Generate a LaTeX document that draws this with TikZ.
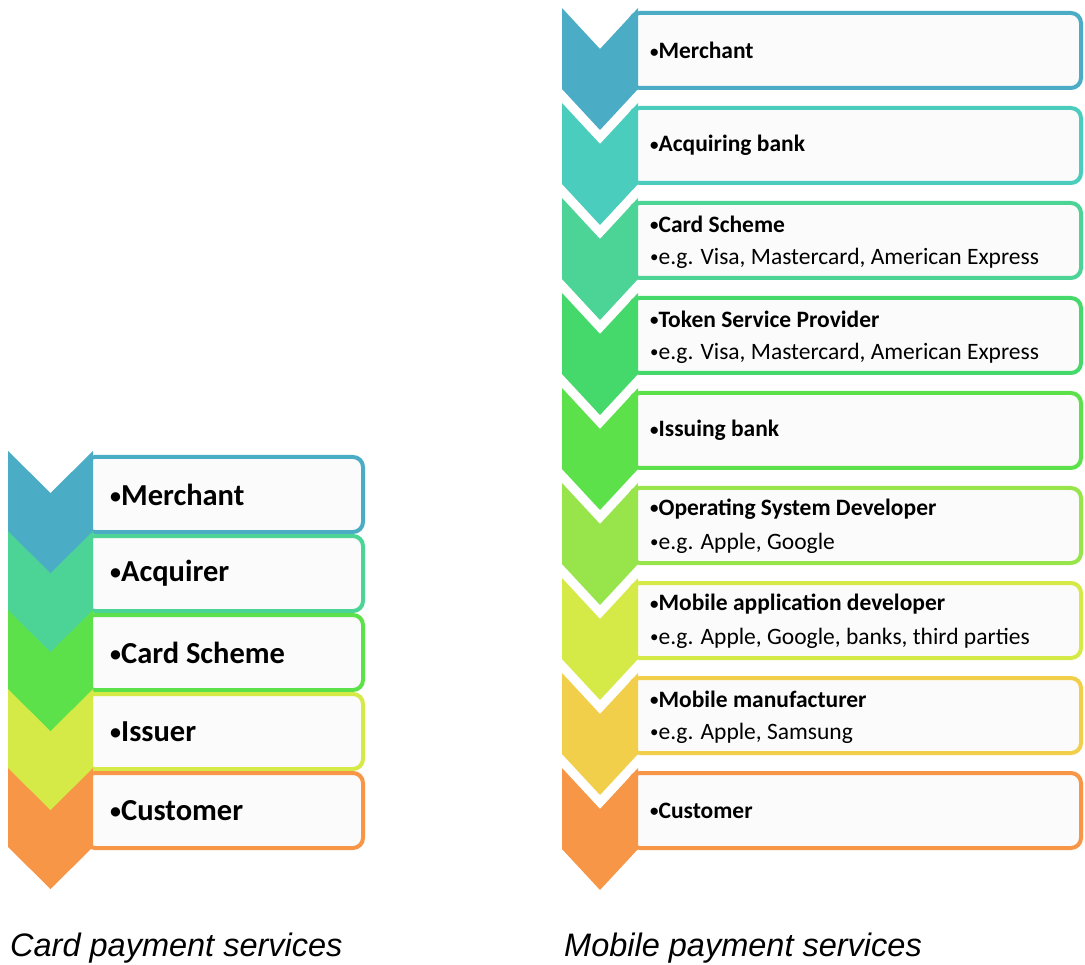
\documentclass[tikz,border=0pt]{standalone}
\usepackage{fontspec}
\usepackage{graphicx}
\setmainfont{Carlito}
\newfontfamily\capfont{Liberation Sans}
\newcommand{\bul}{\raisebox{0.06em}{\scalebox{0.72}{•}}}
\definecolor{cBlue}{HTML}{4BACC6}
\definecolor{cTeal}{HTML}{4BCDBD}
\definecolor{cAcq}{HTML}{4CD396}
\definecolor{cTok}{HTML}{45D86B}
\definecolor{cGreen}{HTML}{5DE14A}
\definecolor{cLime}{HTML}{97E44B}
\definecolor{cYel}{HTML}{D5EA46}
\definecolor{cGold}{HTML}{F2CF4B}
\definecolor{cOrange}{HTML}{F79646}
\definecolor{boxfill}{HTML}{FBFBFB}
\begin{document}
\begin{tikzpicture}[x=1pt,y=-1pt,
  lbox/.style={draw=#1, line width=4pt, rounded corners=10pt, fill=boxfill,
    minimum width=278pt, minimum height=75pt, anchor=north west, inner sep=0pt, outer sep=0pt},
  rbox/.style={draw=#1, line width=4pt, rounded corners=10pt, fill=boxfill,
    minimum width=451pt, minimum height=75pt, anchor=north west, inner sep=0pt, outer sep=0pt},
  ltext/.style={anchor=west, inner sep=0pt, font=\fontsize{30.5}{34}\selectfont\bfseries},
  rtext/.style={anchor=west, inner sep=0pt, font=\fontsize{23.5}{27}\selectfont\bfseries},
  rsub/.style={anchor=west, inner sep=0pt, font=\fontsize{23.5}{27}\selectfont},
  caption/.style={anchor=base west, inner sep=0pt, font=\fontsize{32.5}{38}\selectfont\capfont\itshape}
]
\useasboundingbox[fill=white] (0,0) rectangle (1085,965);

% ---------- left: card payment services ----------
\foreach \c [count=\i from 0] in {cBlue,cAcq,cGreen,cYel,cOrange}
  \node[lbox=\c] (lb\i) at (85,{457+79*\i}) {};
\foreach \c/\i in {cOrange/4,cYel/3,cGreen/2,cAcq/1,cBlue/0}
  \fill[\c] (8,{451+79*\i}) -- (50.5,{493+79*\i}) -- (93,{451+79*\i})
    -- (93,{531+79*\i}) -- (50.5,{573+79*\i}) -- (8,{531+79*\i}) -- cycle;
\foreach \t [count=\i from 0] in {Merchant,Acquirer,Card Scheme,Issuer,Customer}
  \node[ltext] (lt\i) at (110,{494.5+79*\i}) {\bul\t};

% ---------- right: mobile payment services ----------
\foreach \c [count=\i from 0] in {cBlue,cTeal,cAcq,cTok,cGreen,cLime,cYel,cGold,cOrange}
  \node[rbox=\c] (rb\i) at (630,{13+95*\i}) {};
\foreach \c [count=\i from 0] in {cBlue,cTeal,cAcq,cTok,cGreen,cLime,cYel,cGold,cOrange}
  \fill[\c] (562,{8+95*\i}) -- (600,{49+95*\i}) -- (638,{8+95*\i})
    -- (638,{89+95*\i}) -- (600,{130+95*\i}) -- (562,{89+95*\i}) -- cycle;

\node[rtext] (rt0) at (650,50.5) {\bul Merchant};
\node[rtext] (rt1) at (650,145.5) {\bul Acquiring bank};
\node[rtext] (rt2) at (650,224) {\bul Card Scheme};
\node[rsub]  (rs2) at (650,258) {\bul e.g. Visa, Mastercard, American Express};
\node[rtext] (rt3) at (650,319) {\bul Token Service Provider};
\node[rsub]  (rs3) at (650,353) {\bul e.g. Visa, Mastercard, American Express};
\node[rtext] (rt4) at (650,430.5) {\bul Issuing bank};
\node[rtext] (rt5) at (650,509) {\bul Operating System Developer};
\node[rsub]  (rs5) at (650,543) {\bul e.g. Apple, Google};
\node[rtext] (rt6) at (650,604) {\bul Mobile application developer};
\node[rsub]  (rs6) at (650,638) {\bul e.g. Apple, Google, banks, third parties};
\node[rtext] (rt7) at (650,699) {\bul Mobile manufacturer};
\node[rsub]  (rs7) at (650,733) {\bul e.g. Apple, Samsung};
\node[rtext] (rt8) at (650,810.5) {\bul Customer};

% ---------- captions ----------
\node[caption] (capL) at (10,956) {Card payment services};
\node[caption] (capR) at (564,956) {Mobile payment services};
\end{tikzpicture}
\end{document}
